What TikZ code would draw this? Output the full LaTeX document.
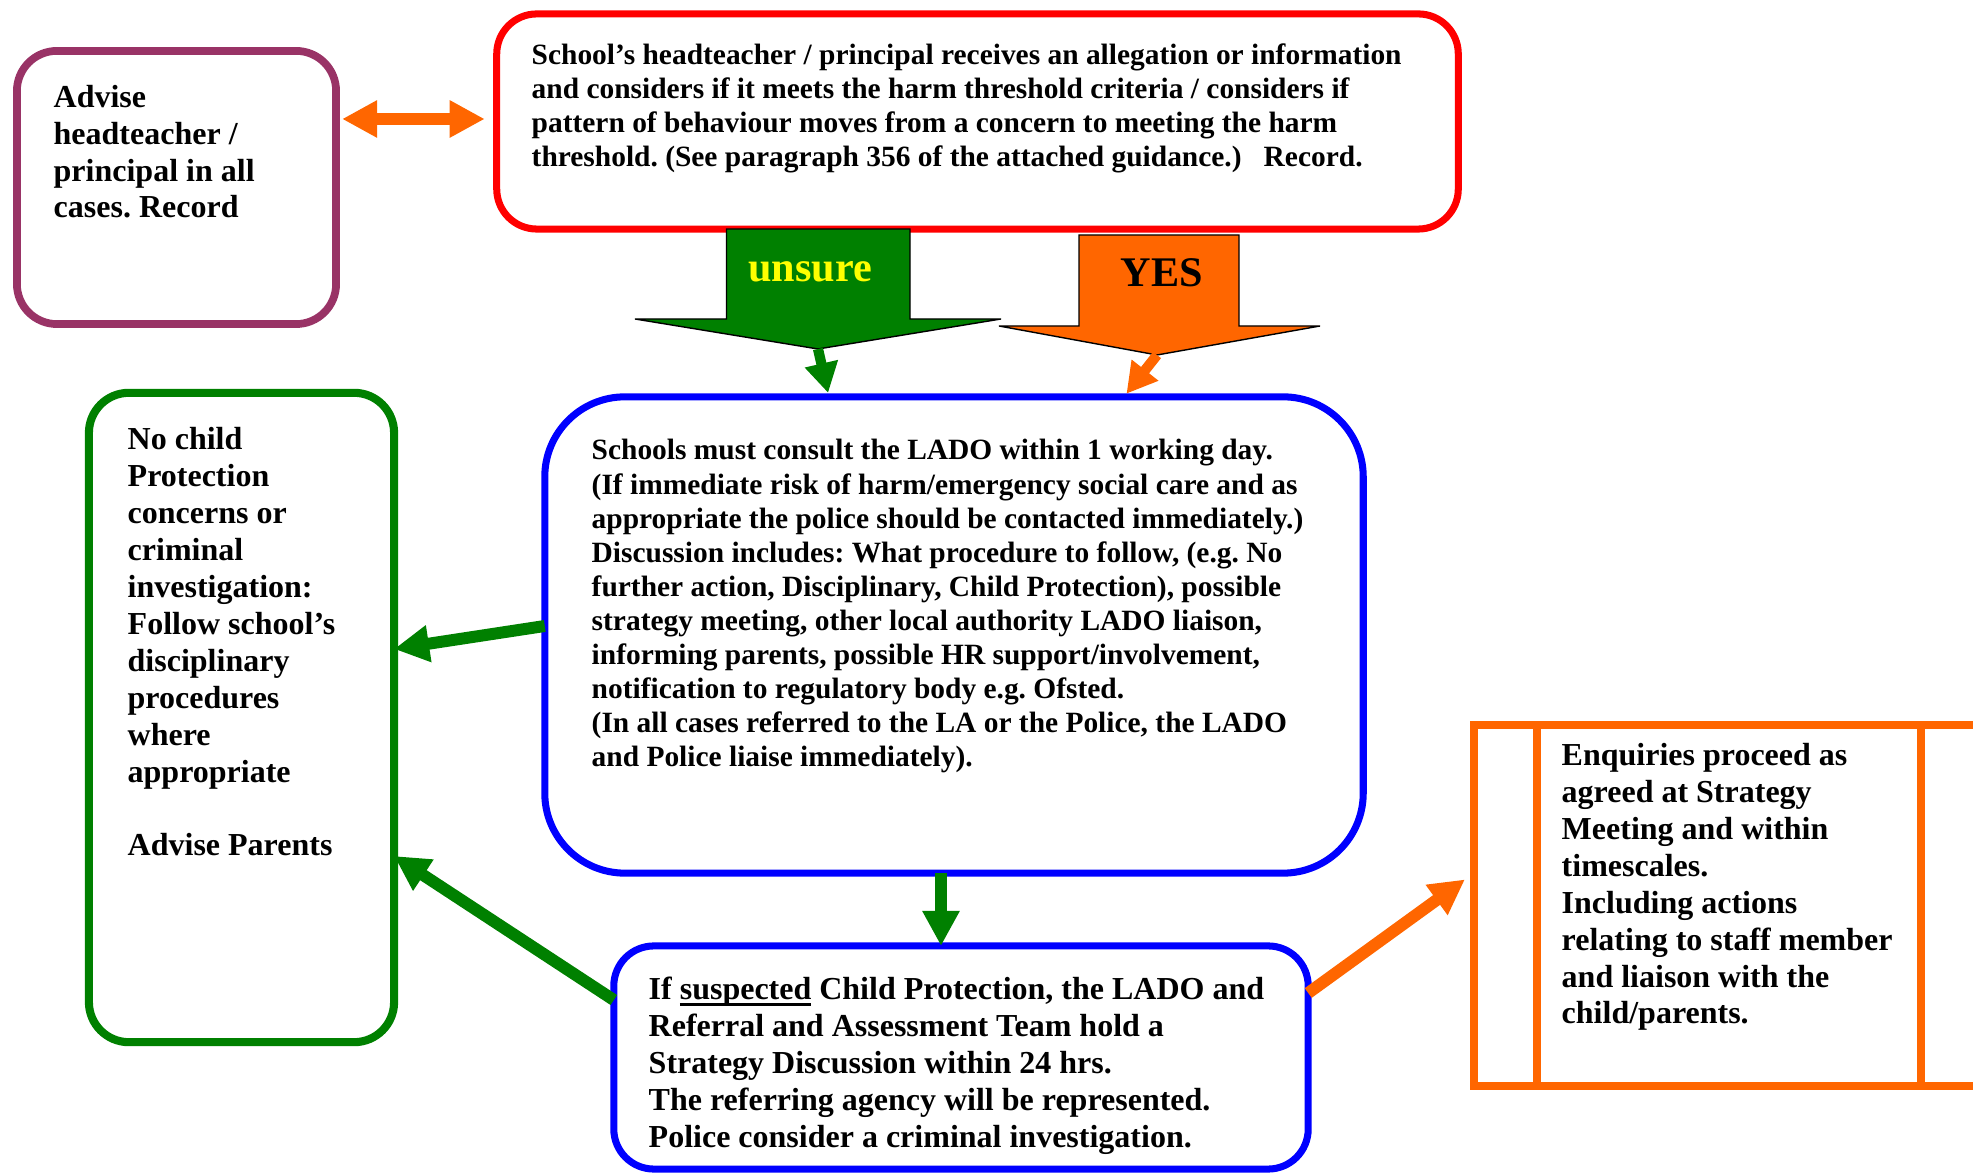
\documentclass[tikz,border=0pt]{standalone}
\usepackage{fontspec}
\setmainfont{Liberation Serif}
\usetikzlibrary{arrows.meta}
\definecolor{plum}{HTML}{993366}
\definecolor{leaf}{HTML}{008000}
\definecolor{amber}{HTML}{FF6600}
\definecolor{lemon}{HTML}{FFFF00}
\frenchspacing
\newlength{\lowlinewd}
\newcommand{\lowline}[1]{\settowidth{\lowlinewd}{#1}\rlap{\rule[-1.9pt]{\lowlinewd}{0.85pt}}#1}

\begin{document}
\begin{tikzpicture}[x=0.01cm,y=-0.01cm,
  rbox/.style={draw,line width=2pt,rounded corners=0.4cm,inner sep=0pt,outer sep=0pt},
  bigtxt/.style={inner sep=0pt,anchor=base west,align=left,font=\fontsize{9.1}{10.5}\selectfont\bfseries},
  smalltxt/.style={inner sep=0pt,anchor=base west,align=left,font=\fontsize{8.37}{9.7}\selectfont\bfseries},
  blocktxt/.style={inner sep=0pt,anchor=base,font=\fontsize{12}{14}\selectfont\bfseries},
  link/.style={line width=3.4pt,-{Triangle[length=0.35cm,width=0.35cm]}},
  shortlink/.style={line width=2.9pt,-{Triangle[length=0.3cm,width=0.32cm]}},
  block/.style={draw=black,line width=0.4pt}]
\useasboundingbox (0,0) rectangle (1973,1174);
\clip (0,0) rectangle (1973,1174);

\node[rbox,draw=plum,line width=2.2pt,minimum width=3.19cm,minimum height=2.73cm] (Advise) at (176.5,187.5) {};
\node[bigtxt] (tAdvise) at (53,218) {Advise\\headteacher /\\principal in all\\cases. Record};

\node[rbox,draw=red,minimum width=9.61cm,minimum height=2.15cm] (Head) at (977.5,121.5) {};
\node[smalltxt] (tHead) at (531,167) {School’s headteacher / principal receives an allegation or information\\and considers if it meets the harm threshold criteria / considers if\\pattern of behaviour moves from a concern to meeting the harm\\threshold. (See paragraph 356 of the attached guidance.)\ \ \ Record.};

\draw[link,amber,{Triangle[length=0.35cm,width=0.35cm]}-{Triangle[length=0.35cm,width=0.35cm]},shorten <=0.06cm,shorten >=0.12cm] (Advise.east |- 0,119) -- (Head.west |- 0,119);

\filldraw[block,fill=leaf] (726.5,229) -- (910,229) -- (910,319) -- (1001,319) -- (818,349) -- (635,319) -- (726.5,319) -- cycle;
\node[blocktxt,text=lemon] (unsure) at (810,282) {unsure};
\coordinate (uTip) at (818,349);

\filldraw[block,fill=amber] (1079,235) -- (1239,235) -- (1239,326) -- (1320,326) -- (1157,355) -- (999,326) -- (1079,326) -- cycle;
\node[blocktxt] (yes) at (1162,287) {YES};
\coordinate (yTip) at (1157,355);

\node[rbox,draw=blue,rounded corners=0.8cm,minimum width=8.18cm,minimum height=4.76cm] (Lado) at (954,635) {};
\node[smalltxt] (tLado) at (591,767) {Schools must consult the LADO within 1 working day.\\(If immediate risk of harm/emergency social care and as\\appropriate the police should be contacted immediately.)\\Discussion includes: What procedure to follow, (e.g. No\\further action, Disciplinary, Child Protection), possible\\strategy meeting, other local authority LADO liaison,\\informing parents, possible HR support/involvement,\\notification to regulatory body e.g. Ofsted.\\(In all cases referred to the LA or the Police, the LADO\\and Police liaise immediately).};

\node[rbox,draw=leaf,line width=2.3pt,minimum width=3.05cm,minimum height=6.49cm] (Nocp) at (241.5,717.5) {};
\node[bigtxt] (tNocp) at (127,856) {No child\\Protection\\concerns or\\criminal\\investigation:\\Follow school’s\\disciplinary\\procedures\\where\\appropriate\\[10.5pt]Advise Parents};

\node[rbox,draw=blue,minimum width=6.94cm,minimum height=2.23cm] (Strat) at (961,1057.5) {};
\node[bigtxt] (tStrat) at (648,1147) {If \lowline{suspected} Child Protection, the LADO and\\Referral and Assessment Team hold a\\Strategy Discussion within 24 hrs.\\The referring agency will be represented.\\Police consider a criminal investigation.};

\node[draw=amber,line width=2.3pt,inner sep=0pt,outer sep=0pt,minimum width=5.21cm,minimum height=3.61cm] (Enq) at (1734.5,905.5) {};
\draw[amber,line width=2.3pt] (Enq.north -| 1537,0) -- (Enq.south -| 1537,0);
\draw[amber,line width=2.3pt] (Enq.north -| 1921,0) -- (Enq.south -| 1921,0);
\node[bigtxt] (tEnq) at (1561,1024) {Enquiries proceed as\\agreed at Strategy\\Meeting and within\\timescales.\\Including actions\\relating to staff member\\and liaison with the\\child/parents.};

\draw[shortlink,leaf,shorten >=0.04cm] (uTip) -- (Lado.north -| 829,0);
\draw[shortlink,amber,shorten >=0.04cm] (yTip) -- (Lado.north -| 1124,0);
\draw[link,leaf] (Lado.west |- 0,626) -- (Nocp.east |- 0,649);
\draw[link,leaf] (Strat.west |- 0,1000) -- (Nocp.east |- 0,856);
\draw[link,leaf] (Lado.south -| 941,0) -- (Strat.north -| 941,0);
\draw[link,amber,shorten >=0.11cm] (Strat.east |- 0,993) -- (Enq.west |- 0,873);
\end{tikzpicture}
\end{document}
